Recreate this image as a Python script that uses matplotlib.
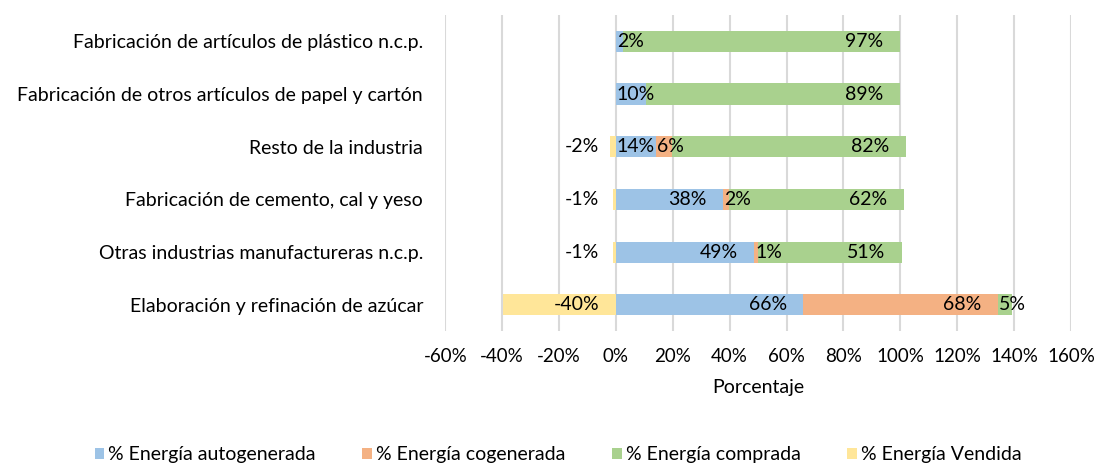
import matplotlib
matplotlib.use("Agg")
import matplotlib.pyplot as plt
import numpy as np

plt.rcParams['font.family'] = ['Lato', 'DejaVu Sans']

# datos (de abajo hacia arriba)
categorias = ["Elaboración y refinación de azúcar",
              "Otras industrias manufactureras n.c.p.",
              "Fabricación de cemento, cal y yeso",
              "Resto de la industria",
              "Fabricación de otros artículos de papel y cartón",
              "Fabricación de artículos de plástico n.c.p."]
autogenerada = [65.9, 48.6, 37.8, 14.1, 10.4, 2.4]
cogenerada = [68.4, 1.4, 1.9, 5.6, 0.0, 0.0]
comprada = [5.0, 50.6, 61.6, 82.3, 89.4, 97.4]
vendida = [-39.7, -1.0, -1.2, -2.2, 0.0, 0.0]

series = ["% Energía autogenerada", "% Energía cogenerada",
          "% Energía comprada", "% Energía Vendida"]
colores = ["#9DC3E6", "#F4B183", "#A9D18E", "#FFE699"]

fig = plt.figure(figsize=(10.94, 4.69), dpi=100)
ax = fig.add_axes([0.407, 0.294, 0.572, 0.674])

y = np.arange(len(categorias))
alto = 0.4
fs = 14

izq = np.zeros(len(categorias))
for vals, nombre, col in zip([autogenerada, cogenerada, comprada], series[:3], colores[:3]):
    vals = np.array(vals)
    ax.barh(y, vals, left=izq, height=alto, color=col, label=nombre, zorder=3)
    for i, v in enumerate(vals):
        if v <= 0:
            continue
        if v >= 15:
            ax.text(izq[i] + v - 5.8, y[i], "%.0f%%" % v, ha='right', va='center',
                    fontsize=fs, zorder=4)
        else:
            ax.text(izq[i] + 0.3, y[i], "%.0f%%" % v, ha='left', va='center',
                    fontsize=fs, zorder=4)
    izq = izq + vals

vend = np.array(vendida)
ax.barh(y, vend, height=alto, color=colores[3], label=series[3], zorder=3)
for i, v in enumerate(vend):
    if v < 0:
        ax.text(-5.9, y[i], "%.0f%%" % v, ha='right', va='center', fontsize=fs, zorder=4)

ax.set_xlim(-60, 160)
ax.set_xticks(np.arange(-60, 161, 20))
ax.set_xticklabels(["%d%%" % t for t in range(-60, 161, 20)], fontsize=13.5)
ax.set_ylim(-0.5, len(categorias) - 0.5)
ax.set_yticks(y)
ax.set_yticklabels(categorias, fontsize=fs)
ax.tick_params(axis='x', length=0, pad=12)
ax.tick_params(axis='y', length=0, pad=16)
ax.grid(axis='x', color='#D9D9D9', linewidth=1.5, zorder=0)
for s in ax.spines.values():
    s.set_visible(False)
ax.set_xlabel("Porcentaje", fontsize=fs, labelpad=10)

fig.legend(loc='lower center', bbox_to_anchor=(0.51, -0.025), ncol=4, frameon=False,
           fontsize=fs, handlelength=0.5, handleheight=0.5, handletextpad=0.2,
           columnspacing=2.4)

fig.savefig("out.png", dpi=100)
